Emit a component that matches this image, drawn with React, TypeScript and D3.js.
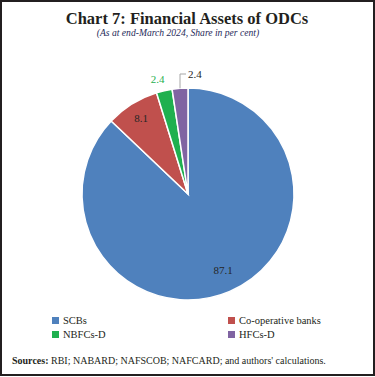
import React from "react";
import * as d3 from "d3";

const categories = ["SCBs", "Co-operative banks", "NBFCs-D", "HFCs-D"];
const values = [87.1, 8.1, 2.4, 2.4];
const valueLabels = ["87.1", "8.1", "2.4", "2.4"];
const colors = ["#4f81bd", "#c0504d", "#1fb04f", "#8064a2"];

const W = 375;
const H = 377;
const CX = 188;
const CY = 194;
const R = 106;
const SERIF = "'Liberation Serif', 'Times New Roman', serif";

export default function App() {
  const pie = d3.pie<number>().sort(null).value((d) => d)(values);
  const arc = d3.arc<d3.PieArcDatum<number>>().innerRadius(0).outerRadius(R);
  const labelArc = (r: number) => d3.arc<d3.PieArcDatum<number>>().innerRadius(r).outerRadius(r);

  const mid = (d: d3.PieArcDatum<number>) => (d.startAngle + d.endAngle) / 2;

  const pBlue = labelArc(84).centroid(pie[0]);
  const pRed = labelArc(89).centroid(pie[1]);
  const pGreen = labelArc(118).centroid(pie[2]);
  const aPurple = mid(pie[3]);
  const lx = Math.sin(aPurple) * R;
  const ly = -Math.cos(aPurple) * R;
  const legendItems = [
    { x: 52, y: 317 },
    { x: 228, y: 317 },
    { x: 52, y: 331 },
    { x: 228, y: 331 },
  ];

  return (
    <svg width={W} height={H} style={{ position: "absolute", left: 0, top: 0 }} fontFamily={SERIF}>
      <rect x={0} y={0} width={W} height={H} fill="#ffffff" />
      <rect x={1} y={1} width={373} height={374} fill="none" stroke="#231f20" strokeWidth={2} />
      <text x={187} y={24} textAnchor="middle" fontSize={16.5} fontWeight="bold" fill="#231f20">
        Chart 7: Financial Assets of ODCs
      </text>
      <text x={178} y={35.5} textAnchor="middle" fontSize={9.6} fontStyle="italic" fill="#1f2a5a">
        (As at end-March 2024, Share in per cent)
      </text>
      <g transform={`translate(${CX},${CY})`}>
        {pie.map((d, i) => (
          <path key={categories[i]} d={arc(d) || ""} fill={colors[i]} stroke="#ffffff" strokeWidth={1.5} />
        ))}
        <text x={pBlue[0] + 2} y={pBlue[1] + 3} textAnchor="middle" fontSize={11} fill="#262626">
          {valueLabels[0]}
        </text>
        <text x={pRed[0]} y={pRed[1] + 4} textAnchor="middle" fontSize={11} fill="#262626">
          {valueLabels[1]}
        </text>
        <text x={pGreen[0] - 4} y={pGreen[1] + 4} textAnchor="middle" fontSize={11} fill={colors[2]}>
          {valueLabels[2]}
        </text>
        <polyline
          points={`${lx},${ly} ${lx},${-120} ${lx + 6},${-120}`}
          fill="none"
          stroke="#a6a6a6"
          strokeWidth={1}
        />
        <text x={lx + 8} y={-120 + 4} textAnchor="start" fontSize={11} fill="#262626">
          {valueLabels[3]}
        </text>
      </g>
      {legendItems.map((p, i) => (
        <g key={categories[i]} transform={`translate(${p.x},${p.y})`}>
          <rect x={0} y={0} width={7} height={7} fill={colors[i]} />
          <text x={11} y={7} fontSize={10.5} fill="#231f20">
            {categories[i]}
          </text>
        </g>
      ))}
      <text x={12} y={364} fontSize={10} fill="#231f20">
        <tspan fontWeight="bold">Sources:</tspan>
        <tspan> RBI; NABARD; NAFSCOB; NAFCARD; and authors' calculations.</tspan>
      </text>
    </svg>
  );
}
